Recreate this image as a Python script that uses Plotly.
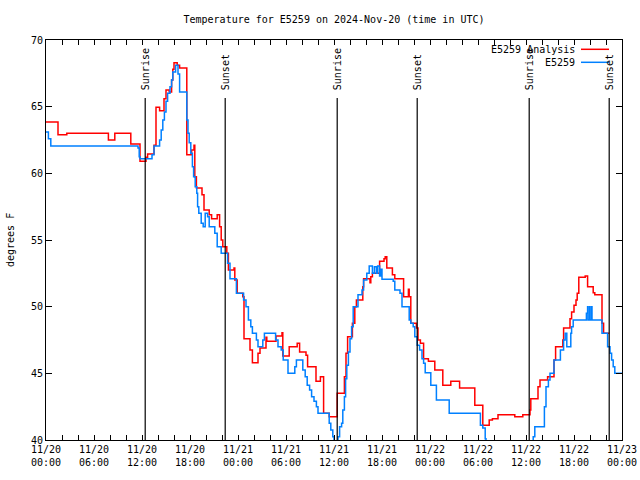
import plotly.graph_objects as go

# hours since 2024-11-20 00:00 UTC
analysis_t = [0, 1.5, 2.6, 7.8, 8.6, 10.6, 11.75, 12.5, 12.7, 13.5, 13.75, 14.2, 14.75, 15.0, 15.4, 15.7, 15.85,
              16.0, 16.4, 16.7, 17.6, 18.2, 18.5, 18.6, 18.8, 19.5, 19.75, 20.4, 20.7, 21.4, 21.7, 21.9, 22.1,
              22.6, 22.8, 23.5, 23.6, 23.9, 24.6, 24.75, 25.5, 25.8, 26.5, 26.75, 27.5, 27.6, 28.75, 29.5, 29.6,
              30.4, 31.4, 31.7, 32.5, 32.7, 33.75, 34.3, 34.7, 35.4, 36.4, 37.3, 37.5, 37.7, 38.3, 38.6, 38.8,
              39.6, 39.7, 40.5, 40.6, 40.8, 41.7, 42.25, 42.4, 42.6, 43.3, 43.6, 44.7, 45.3, 45.4, 45.6, 46.3,
              46.5, 46.8, 47.2, 47.8, 48.6, 49.6, 50.6, 51.7, 53.6, 54.6, 55.4, 55.8, 56.5, 58.6, 59.6, 60.5,
              60.6, 61.5, 61.75, 62.7, 63.5, 63.7, 64.6, 64.7, 65.5, 65.7, 66.0, 66.25, 66.4, 66.6, 67.4, 67.7,
              68.4, 68.6, 69.5, 69.7, 70.4]
analysis_v = [63.85, 62.9, 63.0, 62.5, 63.0, 62.2, 60.9, 61.2, 61.45, 62.1, 64.95, 64.7, 65.6, 66.25, 66.1, 67.0, 67.8,
              68.3, 68.1, 67.9, 61.4, 61.75, 62.1, 59.75, 58.9, 58.4, 57.25, 56.9, 56.6, 56.9, 56.0, 55.0, 54.5,
              54.0, 52.75, 52.9, 52.0, 51.0, 50.75, 47.6, 46.75, 45.8, 46.5, 46.9, 47.7, 47.4, 47.8, 48.05, 46.3,
              47.0, 47.25, 46.6, 46.35, 45.5, 44.4, 44.75, 42.0, 41.75, 43.5, 44.75, 46.5, 47.75, 48.75, 50.0, 50.5,
              51.5, 52.1, 51.8, 52.25, 52.5, 53.4, 53.6, 53.75, 52.9, 52.4, 52.1, 50.75, 51.3, 50.75, 48.75, 48.4,
              47.5, 47.25, 46.1, 45.9, 45.25, 44.1, 44.4, 43.9, 42.6, 41.1, 41.5, 41.6, 41.9, 41.75, 41.9, 42.25,
              43.1, 44.0, 44.5, 44.75, 46.0, 47.0, 47.5, 48.4, 49.1, 49.6, 50.1, 50.5, 51.0, 52.2, 52.3, 51.5,
              51.05, 50.9, 48.75, 48.0, 48.0]

station_t = [0, 0.3, 0.6, 11.5, 11.65, 11.75, 13.25, 13.5, 14.2, 14.4, 14.6, 14.8, 15.0, 15.2, 15.5, 15.7, 15.85,
             16.2, 16.5, 16.7, 17.6, 17.75, 17.9, 18.1, 18.3, 18.45, 18.65, 18.85, 18.95, 19.1, 19.4, 19.65,
             19.9, 20.2, 20.4, 21.1, 21.4, 21.9, 22.7, 23.0, 23.8, 24.7, 25.0, 25.3, 25.6, 25.8, 26.3, 26.5,
             27.1, 27.3, 28.7, 29.0, 29.4, 29.65, 30.25, 31.1, 31.3, 32.1, 32.4, 32.65, 32.95, 33.2, 33.5, 33.8,
             34.0, 35.4, 35.6, 35.85, 36.0, 36.1, 36.5, 36.7, 36.95, 37.1, 37.3, 37.45, 37.6, 37.8, 38.0, 38.2,
             38.4, 39.0, 39.5, 39.7, 40.1, 40.4, 40.8, 41.05, 41.3, 41.45, 41.7, 41.85, 42.0, 43.4, 43.6, 44.25,
             44.5, 45.4, 45.6, 45.9, 46.1, 46.4, 46.7, 47.0, 47.2, 47.4, 48.1, 48.8, 50.4, 54.3, 54.6, 54.9,
             55.0, 60.9, 61.1, 62.3, 62.5, 62.8, 63.0, 63.5, 64.3, 64.7, 64.9, 65.1, 65.6, 65.7, 65.9, 67.55,
             67.7, 67.75, 67.95, 68.0, 68.2, 68.25, 69.5, 70.2, 70.5, 70.7, 70.9, 71.1, 72.0]
station_v = [63.1, 62.6, 62.05, 61.9, 61.25, 61.1, 61.4, 62.05, 62.5, 63.25, 64.0, 64.6, 65.4, 66.0, 66.5, 67.0, 67.6,
             68.1, 67.45, 66.1, 64.0, 63.0, 62.3, 61.5, 60.5, 59.75, 59.0, 58.5, 57.5, 57.0, 56.25, 56.0,
             57.0, 56.75, 56.0, 55.5, 54.5, 54.0, 53.25, 52.1, 51.0, 50.5, 50.0, 49.0, 48.5, 48.0, 47.5, 47.0,
             47.5, 48.0, 47.5, 47.0, 46.75, 46.0, 45.0, 45.5, 46.0, 45.25, 44.75, 44.1, 43.75, 43.25, 42.9, 42.5,
             42.0, 41.25, 40.75, 40.25, 39.7, 39.7, 40.25, 41.0, 41.25, 42.25, 43.25, 44.6, 45.6, 46.6, 47.6, 48.5,
             50.0, 50.9, 51.25, 52.0, 52.5, 53.05, 52.5, 53.0, 52.5, 53.05, 52.3, 52.8, 52.05, 51.9, 51.25, 51.0,
             50.0, 49.0, 48.75, 48.5, 47.75, 47.1, 46.75, 46.1, 45.75, 45.05, 44.1, 43.0, 42.0, 41.1, 40.9, 40.1,
             39.0, 40.25, 41.0, 42.5, 44.0, 44.5, 45.0, 46.0, 46.75, 47.5, 48.0, 47.0, 48.0, 48.5, 49.0, 49.5,
             50.0, 49.0, 50.0, 49.0, 50.0, 49.0, 48.0, 47.0, 46.5, 46.0, 45.5, 45.0, 45.0]

sunrise_hours = [12.4, 36.4, 60.4]
sunset_hours = [22.4, 46.4, 70.4]

x_label_hours = [0, 6, 12, 18, 24, 30, 36, 42, 48, 54, 60, 66, 72]
x_label_text = ["11/20<br>00:00", "11/20<br>06:00", "11/20<br>12:00", "11/20<br>18:00",
                "11/21<br>00:00", "11/21<br>06:00", "11/21<br>12:00", "11/21<br>18:00",
                "11/22<br>00:00", "11/22<br>06:00", "11/22<br>12:00", "11/22<br>18:00",
                "11/23<br>00:00"]
y_ticks = [40, 45, 50, 55, 60, 65, 70]

FONT = "DejaVu Sans Mono"
RED = "#ff0000"
BLUE = "#0080ff"

fig = go.Figure()
fig.add_trace(go.Scatter(x=analysis_t, y=analysis_v, mode="lines", line=dict(color=RED, width=1.5, shape="hv"),
                         name="E5259 Analysis", showlegend=False))
fig.add_trace(go.Scatter(x=station_t, y=station_v, mode="lines", line=dict(color=BLUE, width=1.5, shape="hv"),
                         name="E5259", showlegend=False))

# tick values every 2 hours, labels every 6
tickvals = list(range(0, 73, 2))
label_map = dict(zip(x_label_hours, x_label_text))
ticktext = [label_map.get(v, "") for v in tickvals]

shapes = []
annotations = []
line_top = 65.65
for name, hours in (("Sunrise", sunrise_hours), ("Sunset", sunset_hours)):
    for h in hours:
        shapes.append(dict(type="line", xref="x", yref="y", x0=h, x1=h, y0=40, y1=line_top,
                           line=dict(color="black", width=1.2)))
        annotations.append(dict(text=name, x=h, y=66.1, xref="x", yref="y", textangle=-90,
                                xanchor="center", yanchor="bottom", showarrow=False,
                                font=dict(family=FONT, size=10, color="black")))

# legend (text left of sample line)
for label, color, ypx in (("E5259 Analysis", RED, 49.3), ("E5259", BLUE, 62.3)):
    yp = (440 - ypx) / 400
    shapes.append(dict(type="line", xref="paper", yref="paper", x0=(581 - 46) / 576, x1=(609 - 46) / 576,
                       y0=yp, y1=yp, line=dict(color=color, width=1.5)))
    annotations.append(dict(text=label, x=(577 - 46) / 576, y=yp, xref="paper", yref="paper",
                            xanchor="right", yanchor="middle", showarrow=False,
                            font=dict(family=FONT, size=10, color="black")))

annotations.append(dict(text="degrees F", x=(10 - 46) / 576, y=0.5, xref="paper", yref="paper",
                        textangle=-90, xanchor="center", yanchor="middle", showarrow=False,
                        font=dict(family=FONT, size=10, color="black")))

fig.update_layout(
    width=640, height=480, autosize=False,
    margin=dict(l=46, r=18, t=40, b=40, pad=0, autoexpand=False),
    paper_bgcolor="white", plot_bgcolor="white",
    font=dict(family=FONT, size=10, color="black"),
    title=dict(text="Temperature for E5259 on 2024-Nov-20 (time in UTC)", x=0.5, xref="paper",
               xanchor="center", y=1 - 19 / 480, yanchor="middle", yref="container",
               font=dict(family=FONT, size=10, color="black")),
    shapes=shapes, annotations=annotations, showlegend=False,
)
fig.update_xaxes(range=[0, 72], tickvals=tickvals, ticktext=ticktext, ticks="inside", ticklen=5,
                 tickcolor="black", showline=True, linecolor="black", linewidth=1, mirror="ticks",
                 showgrid=False, zeroline=False, automargin=False)
fig.update_yaxes(range=[40, 70], tickvals=y_ticks, ticks="inside", ticklen=6, tickcolor="black",
                 showline=True, linecolor="black", linewidth=1, mirror="ticks", showgrid=False,
                 zeroline=False, automargin=False)

fig.write_html("out.html", config={"displayModeBar": False, "responsive": False},
               post_script="document.body.style.margin='0';document.body.style.overflow='hidden';")
